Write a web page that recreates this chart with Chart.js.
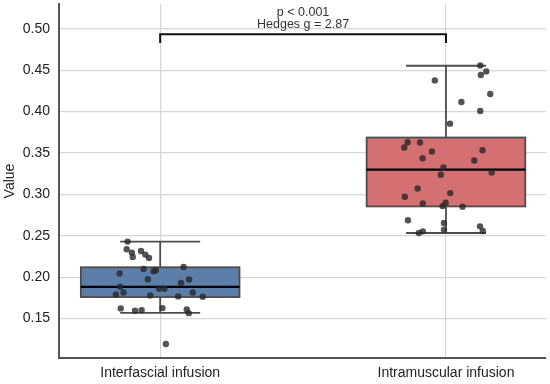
<!DOCTYPE html>
<html><head><meta charset="utf-8">
<script src="https://cdn.jsdelivr.net/npm/chart.js@4"></script>
<style>html,body{margin:0;padding:0;background:#fff}#wrap{width:550px;height:384px}</style>
</head><body><div id="wrap"><canvas id="c" width="550" height="384"></canvas></div>
<script>
const categories = ["Interfascial infusion", "Intramuscular infusion"];
const yTicks = [0.15, 0.20, 0.25, 0.30, 0.35, 0.40, 0.45, 0.50];
// box stats: [whiskerLow, q1, median, q3, whiskerHigh]
const interfascialBox = [0.157, 0.176, 0.1883, 0.212, 0.243];
const intramuscularBox = [0.2534, 0.2855, 0.330, 0.3687, 0.4554];
// jittered points: x offset (category units), value
const interfascialJitter = [-0.114,-0.117,-0.099,-0.096,-0.067,-0.052,-0.039,-0.142,-0.058,-0.023,-0.015,0.082,-0.043,0.101,0.073,-0.140,-0.004,0.015,-0.128,0.114,-0.155,-0.035,0.063,0.149,-0.138,0.008,-0.088,-0.065,0.093,0.100,0.020];
const interfascialValues = [0.243,0.2337,0.2297,0.2245,0.2317,0.2273,0.2233,0.2045,0.210,0.2072,0.2084,0.2124,0.1976,0.1972,0.1932,0.1884,0.186,0.186,0.1816,0.1816,0.1792,0.178,0.1768,0.1763,0.1623,0.1627,0.1594,0.1602,0.161,0.1566,0.1193];
const intramuscularJitter = [0.120,0.122,0.141,-0.039,0.155,0.054,0.120,0.014,-0.134,-0.091,-0.146,-0.049,0.128,-0.082,0.099,-0.009,0.160,-0.018,-0.099,-0.144,0.015,-0.081,-0.001,-0.012,0.058,-0.133,-0.007,0.119,-0.007,-0.081,-0.095,0.129];
const intramuscularValues = [0.4558,0.4442,0.4486,0.4377,0.4213,0.4116,0.4008,0.3855,0.363,0.3627,0.3566,0.3518,0.3534,0.3437,0.341,0.3325,0.3265,0.3237,0.3072,0.2972,0.3016,0.2892,0.29,0.2859,0.2852,0.2687,0.2654,0.2614,0.2574,0.2554,0.2534,0.2558];
const bracketValue = 0.4935;
const bracketDrop = 0.0105;
const annotationLines = ["p < 0.001", "Hedges g = 2.87"];

const boxes = [
  {pos: 0, stats: interfascialBox, fill: 'rgba(91,127,169,1)'},
  {pos: 1, stats: intramuscularBox, fill: 'rgba(212,111,114,1)'}
];
const BOX_W = 0.555, CAP_W = 0.28;
const font = "'Liberation Sans', Arial, sans-serif";

const boxPlugin = {
  id: 'boxes',
  beforeDatasetsDraw(chart) {
    const {ctx, scales: {x, y}} = chart;
    ctx.save();
    boxes.forEach(b => {
      const [lo, q1, med, q3, hi] = b.stats;
      const xc = x.getPixelForValue(b.pos);
      const xl = x.getPixelForValue(b.pos - BOX_W/2), xr = x.getPixelForValue(b.pos + BOX_W/2);
      const cl = x.getPixelForValue(b.pos - CAP_W/2), cr = x.getPixelForValue(b.pos + CAP_W/2);
      ctx.strokeStyle = '#4d4d4d'; ctx.lineWidth = 1.8;
      ctx.beginPath();
      ctx.moveTo(xc, y.getPixelForValue(q3)); ctx.lineTo(xc, y.getPixelForValue(hi));
      ctx.moveTo(cl, y.getPixelForValue(hi)); ctx.lineTo(cr, y.getPixelForValue(hi));
      ctx.moveTo(xc, y.getPixelForValue(q1)); ctx.lineTo(xc, y.getPixelForValue(lo));
      ctx.moveTo(cl, y.getPixelForValue(lo)); ctx.lineTo(cr, y.getPixelForValue(lo));
      ctx.stroke();
      const yt = y.getPixelForValue(q3), yb = y.getPixelForValue(q1);
      ctx.fillStyle = b.fill;
      ctx.fillRect(xl, yt, xr - xl, yb - yt);
      ctx.strokeRect(xl, yt, xr - xl, yb - yt);
      ctx.strokeStyle = '#000'; ctx.lineWidth = 2.2;
      ctx.beginPath();
      ctx.moveTo(xl, y.getPixelForValue(med)); ctx.lineTo(xr, y.getPixelForValue(med));
      ctx.stroke();
    });
    ctx.restore();
  },
  afterDatasetsDraw(chart) {
    const {ctx, scales: {x, y}} = chart;
    ctx.save();
    const x0 = x.getPixelForValue(0), x1 = x.getPixelForValue(1);
    const yb = y.getPixelForValue(bracketValue), yd = y.getPixelForValue(bracketValue - bracketDrop);
    ctx.strokeStyle = '#111'; ctx.lineWidth = 2;
    ctx.beginPath();
    ctx.moveTo(x0, yd); ctx.lineTo(x0, yb); ctx.lineTo(x1, yb); ctx.lineTo(x1, yd);
    ctx.stroke();
    ctx.fillStyle = '#333';
    ctx.font = "12.5px " + font;
    ctx.textAlign = 'center'; ctx.textBaseline = 'middle';
    const xm = (x0 + x1) / 2;
    ctx.fillText(annotationLines[0], xm, yb - 22);
    ctx.fillText(annotationLines[1], xm, yb - 9.5);
    ctx.restore();
  }
};

const pts = (js, vs, c) => vs.map((v, i) => ({x: c + js[i], y: v}));

new Chart(document.getElementById('c'), {
  type: 'scatter',
  data: {
    datasets: [
      {data: pts(interfascialJitter, interfascialValues, 0), backgroundColor: 'rgba(40,40,40,0.8)', borderWidth: 0, pointRadius: 3.2},
      {data: pts(intramuscularJitter, intramuscularValues, 1), backgroundColor: 'rgba(40,40,40,0.8)', borderWidth: 0, pointRadius: 3.2}
    ]
  },
  options: {
    responsive: false, animation: false, devicePixelRatio: 1,
    layout: {padding: {top: 3, right: 4, left: 0, bottom: 0}},
    plugins: {legend: {display: false}, tooltip: {enabled: false}},
    scales: {
      x: {
        type: 'linear', min: -0.354, max: 1.35,
        afterBuildTicks: s => { s.ticks = [{value: 0}, {value: 1}]; },
        afterFit: s => { s.height = 26; s.paddingLeft = 0; s.paddingRight = 0; },
        ticks: {callback: v => categories[Math.round(v)], color: '#222', font: {family: font, size: 14}, padding: 7, maxRotation: 0, autoSkip: false},
        grid: {color: '#d6d6d6', lineWidth: 1.2, drawTicks: false},
        border: {display: true, color: '#555', width: 2}
      },
      y: {
        min: 0.1024, max: 0.530,
        afterBuildTicks: s => { s.ticks = yTicks.map(v => ({value: v})); },
        afterFit: s => { s.width = 59; s.paddingTop = 0; s.paddingBottom = 0; },
        ticks: {callback: v => v.toFixed(2), color: '#222', font: {family: font, size: 14}, padding: 9},
        grid: {color: '#d6d6d6', lineWidth: 1.2, drawTicks: false},
        border: {display: true, color: '#555', width: 2},
        title: {display: true, text: 'Value', color: '#222', font: {family: font, size: 14}, padding: {top: 2, bottom: 0}}
      }
    }
  },
  plugins: [boxPlugin]
});
</script></body></html>
